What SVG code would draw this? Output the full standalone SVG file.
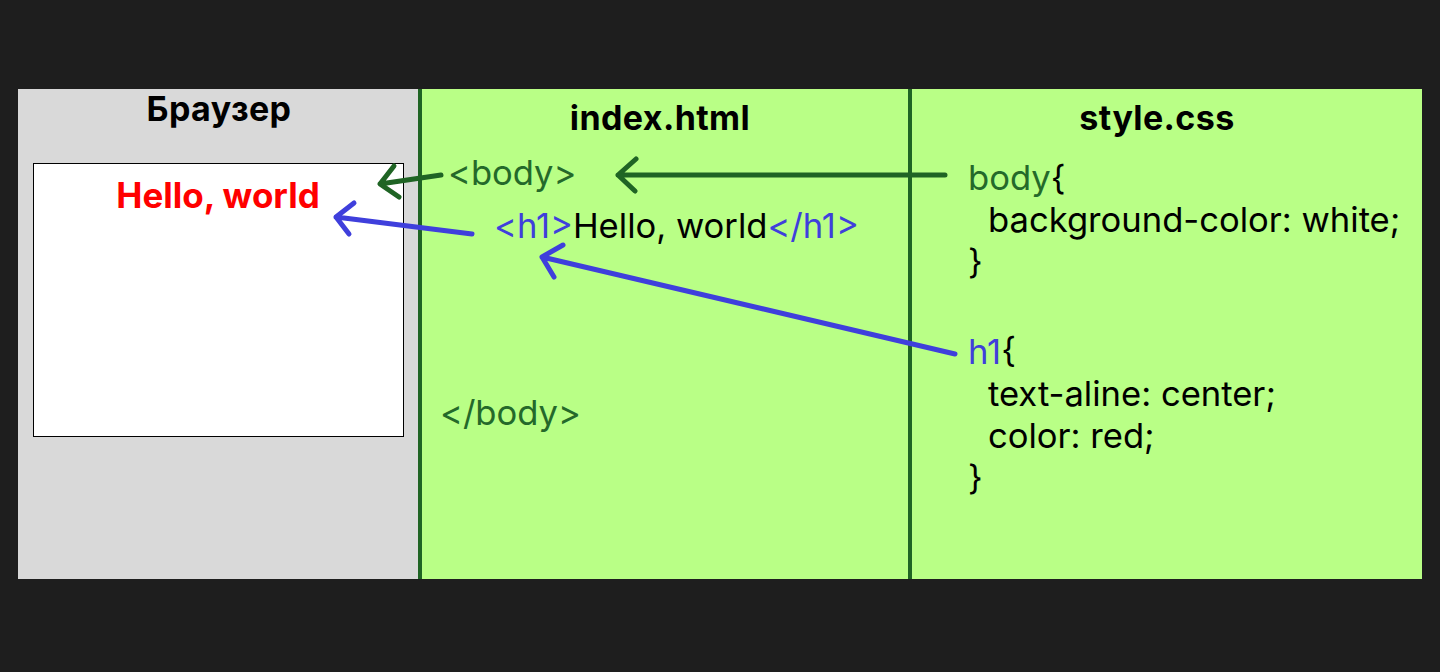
<svg xmlns="http://www.w3.org/2000/svg" width="1440" height="672" viewBox="0 0 1440 672">
<style>
text{font-family:Inter,"Noto Sans","Liberation Sans",sans-serif;}
.title{font-size:34px;font-weight:700;fill:#000;text-anchor:middle;letter-spacing:0.4px;}
.code{font-size:34.6px;fill:#000;}
.g{fill:#24692a;}
.b{fill:#3f3fdc;}
.ag{stroke:#1f6424;stroke-width:5;fill:none;stroke-linecap:round;stroke-linejoin:round;}
.ab{stroke:#3f3fdc;stroke-width:5;fill:none;stroke-linecap:round;stroke-linejoin:round;}
</style>
<rect x="0" y="0" width="1440" height="672" fill="#1e1e1e"/>
<g id="browser">
<rect x="18" y="89" width="401" height="490" fill="#d9d9d9"/>
<text class="title" x="219" y="121">Браузер</text>
<rect x="33.5" y="163.5" width="370" height="273" fill="#fff" stroke="#000" stroke-width="1"/>
<text x="218" y="208" font-size="35" font-weight="700" fill="#ff0000" text-anchor="middle">Hello, world</text>
</g>
<g id="html">
<rect x="419" y="89" width="491" height="490" fill="#b9ff86"/>
<text class="title" x="660" y="130">index.html</text>
<text class="code g" x="448" y="185">&lt;body&gt;</text>
<text class="code" x="494" y="238"><tspan class="b">&lt;h1&gt;</tspan>Hello, world<tspan class="b">&lt;/h1&gt;</tspan></text>
<text class="code g" x="440" y="425">&lt;/body&gt;</text>
</g>
<g id="css">
<rect x="910" y="89" width="512" height="490" fill="#b9ff86"/>
<text class="title" x="1157" y="130">style.css</text>
<text class="code" x="968" y="190"><tspan class="g">body</tspan>{</text>
<text class="code" x="988" y="232">background-color: white;</text>
<text class="code" x="968" y="274">}</text>
<text class="code" x="968" y="364"><tspan class="b">h1</tspan>{</text>
<text class="code" x="988" y="406">text-aline: center;</text>
<text class="code" x="988" y="448">color: red;</text>
<text class="code" x="968" y="490">}</text>
</g>
<g id="dividers">
<line x1="420" y1="89" x2="420" y2="579" stroke="#1f6424" stroke-width="4"/>
<line x1="910" y1="89" x2="910" y2="579" stroke="#1f6424" stroke-width="4"/>
</g>
<g id="connectors">
<path class="ag" d="M945 175 H618 M636 159 L618 175 L635 191"/>
<path class="ag" d="M441 175 L380 184 M394 166 L380 184 L399 197"/>
<path class="ab" d="M472 234 L336 217 M354 203 L336 217 L349 234"/>
<path class="ab" d="M955 354 L542 257 M563 245 L542 257 L554 277"/>
</g>
</svg>
